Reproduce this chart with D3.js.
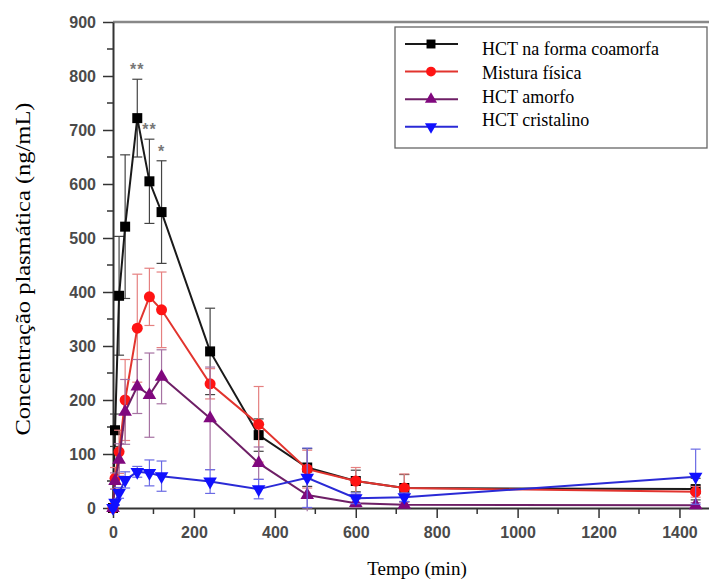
<!DOCTYPE html>
<meta charset="utf-8">
<style>
  body { margin: 0; background: #fff; }
  .tick text { font: bold 16px "Liberation Sans", Arial, sans-serif; fill: #4a4a4a; }
  .serif { font-family: "Liberation Serif", "Times New Roman", serif; fill: #000; }
</style>
<body>
<script src="https://d3js.org/d3.v7.min.js"></script>
<script>
// sampling times (min)
var times = [0, 5, 15, 30, 60, 90, 120, 240, 360, 480, 600, 720, 1440];

var names = ["HCT na forma coamorfa", "Mistura física", "HCT amorfo", "HCT cristalino"];

// mean plasma concentration (ng/mL) and SD
var coamorfa   = [0, 144, 393, 521, 722, 605, 548, 290, 135, 75, 50, 37, 35];
var coamorfaSd = [0, 30, 110, 133, 72, 78, 95, 80, 30, 35, 20, 25, 20];
var mistura    = [0, 55, 104, 200, 333, 391, 367, 230, 155, 72, 50, 37, 30];
var misturaSd  = [0, 20, 40, 75, 100, 53, 70, 28, 70, 35, 25, 26, 10];
var amorfo     = [0, 50, 89, 178, 225, 209, 243, 166, 83, 24, 9, 6, 5];
var amorfoSd   = [0, 15, 30, 60, 50, 78, 50, 95, 30, 30, 8, 5, 5];
var cristalino   = [0, 10, 28, 52, 67, 65, 59, 49, 35, 56, 18, 20, 58];
var cristalinoSd = [0, 5, 10, 15, 10, 24, 28, 22, 18, 55, 10, 8, 51];

var yTicks = [0, 100, 200, 300, 400, 500, 600, 700, 800, 900];
var xTicks = [0, 200, 400, 600, 800, 1000, 1200, 1400];

// significance marks on the coamorfa curve
var starTimes = [60, 90, 120];
var starLabels = ["**", "**", "*"];

var margin = {top: 22, left: 113},
    width = 596,
    height = 486;

var svg = d3.select("body").append("svg")
    .attr("width", 709)
    .attr("height", 580);

var g = svg.append("g")
    .attr("transform", "translate(" + margin.left + "," + margin.top + ")");

var x = d3.scaleLinear().domain([0, 1473]).range([0, width]);
var y = d3.scaleLinear().domain([0, 900]).range([height, 0]);

// top frame line
g.append("line")
    .attr("x1", 0).attr("x2", width)
    .attr("y1", 0).attr("y2", 0)
    .attr("stroke", "#888").attr("stroke-width", 2.5);

// minor ticks
var yMinor = yTicks.slice(0, -1).map(function(d) { return d + 50; });
var xMinor = xTicks.map(function(d) { return d + 100; });
g.append("g").selectAll("line").data(yMinor).enter().append("line")
    .attr("x1", -6).attr("x2", 0)
    .attr("y1", function(d) { return y(d); }).attr("y2", function(d) { return y(d); })
    .attr("stroke", "#333").attr("stroke-width", 1.5);
g.append("g").selectAll("line").data(xMinor).enter().append("line")
    .attr("y1", height).attr("y2", height + 6)
    .attr("x1", function(d) { return x(d); }).attr("x2", function(d) { return x(d); })
    .attr("stroke", "#333").attr("stroke-width", 1.5);

// axes
var yAxis = g.append("g")
    .call(d3.axisLeft(y).tickValues(yTicks).tickSize(10).tickSizeOuter(0).tickPadding(7));
var xAxis = g.append("g")
    .attr("transform", "translate(0," + height + ")")
    .call(d3.axisBottom(x).tickValues(xTicks).tickFormat(d3.format("d"))
      .tickSize(10).tickSizeOuter(0).tickPadding(9));
[yAxis, xAxis].forEach(function(a) {
  a.select(".domain").attr("stroke", "#333").attr("stroke-width", 2);
  a.selectAll(".tick line").attr("stroke", "#333").attr("stroke-width", 1.5);
});

// series
var series = [
  {name: names[0], values: coamorfa, sd: coamorfaSd, line: "#1a1a1a", fill: "#000", err: "#444", sym: d3.symbolSquare, size: 100, rot: 0},
  {name: names[1], values: mistura, sd: misturaSd, line: "#e2342e", fill: "#ff1414", err: "#e58080", sym: d3.symbolCircle, size: 95, rot: 0},
  {name: names[2], values: amorfo, sd: amorfoSd, line: "#6e1f66", fill: "#80087e", err: "#a672a2", sym: d3.symbolTriangle, size: 80, rot: 0},
  {name: names[3], values: cristalino, sd: cristalinoSd, line: "#2a2ad6", fill: "#1010ff", err: "#6a6ae4", sym: d3.symbolTriangle, size: 80, rot: 180}
];

var line = d3.line()
    .x(function(d) { return x(d.t); })
    .y(function(d) { return y(d.v); });

series.forEach(function(s) {
  var pts = times.map(function(t, i) { return {t: t, v: s.values[i], sd: s.sd[i]}; });
  var sg = g.append("g");

  var eb = sg.append("g").selectAll("g").data(pts.filter(function(d) { return d.sd > 0; }))
      .enter().append("g")
      .attr("stroke", s.err).attr("stroke-width", 1.2);
  eb.append("line")
      .attr("x1", function(d) { return x(d.t); }).attr("x2", function(d) { return x(d.t); })
      .attr("y1", function(d) { return y(d.v - d.sd); }).attr("y2", function(d) { return y(d.v + d.sd); });
  eb.append("line")
      .attr("x1", function(d) { return x(d.t) - 5; }).attr("x2", function(d) { return x(d.t) + 5; })
      .attr("y1", function(d) { return y(d.v + d.sd); }).attr("y2", function(d) { return y(d.v + d.sd); });
  eb.append("line")
      .attr("x1", function(d) { return x(d.t) - 5; }).attr("x2", function(d) { return x(d.t) + 5; })
      .attr("y1", function(d) { return y(Math.max(0, d.v - d.sd)); }).attr("y2", function(d) { return y(Math.max(0, d.v - d.sd)); });

  sg.append("path")
      .datum(pts)
      .attr("d", line)
      .attr("fill", "none")
      .attr("stroke", s.line)
      .attr("stroke-width", 2);

  sg.selectAll("path.pt").data(pts).enter().append("path")
      .attr("class", "pt")
      .attr("d", d3.symbol().type(s.sym).size(s.size))
      .attr("transform", function(d) { return "translate(" + x(d.t) + "," + y(d.v) + ") rotate(" + s.rot + ")"; })
      .attr("fill", s.fill);
});

// asterisks
g.selectAll("text.star").data(starTimes).enter().append("text")
    .attr("class", "star")
    .attr("x", function(t) { return x(t); })
    .attr("y", function(t) { var i = times.indexOf(t); return y(coamorfa[i] + coamorfaSd[i]) - 4; })
    .attr("text-anchor", "middle")
    .attr("font-family", "Liberation Sans, Arial, sans-serif")
    .attr("font-size", 16)
    .attr("font-weight", "bold")
    .attr("letter-spacing", 1)
    .attr("fill", "#777")
    .text(function(t, i) { return starLabels[i]; });

// legend
var leg = svg.append("g");
leg.append("rect")
    .attr("x", 395).attr("y", 27)
    .attr("width", 312).attr("height", 121)
    .attr("fill", "#fff")
    .attr("stroke", "#666").attr("stroke-width", 1.3);

series.forEach(function(s, i) {
  var sy = 44 + i * 27.6;
  leg.append("line")
      .attr("x1", 405).attr("x2", 458)
      .attr("y1", sy).attr("y2", sy)
      .attr("stroke", s.line).attr("stroke-width", 2);
  leg.append("path")
      .attr("d", d3.symbol().type(s.sym).size(s.size * 0.8))
      .attr("transform", "translate(431," + sy + ") rotate(" + s.rot + ")")
      .attr("fill", s.fill);
  leg.append("text")
      .attr("class", "serif")
      .attr("x", 482)
      .attr("y", 55.3 + i * 23.6)
      .attr("font-size", 18)
      .text(s.name);
});

// axis titles
svg.append("text")
    .attr("class", "serif")
    .attr("x", 417).attr("y", 575)
    .attr("text-anchor", "middle")
    .attr("font-size", 19)
    .text("Tempo (min)");

svg.append("text")
    .attr("class", "serif")
    .attr("transform", "translate(30,269) rotate(-90)")
    .attr("text-anchor", "middle")
    .attr("font-size", 20)
    .attr("textLength", 333)
    .attr("lengthAdjust", "spacingAndGlyphs")
    .text("Concentração plasmática (ng/mL)");
</script>
</body>
